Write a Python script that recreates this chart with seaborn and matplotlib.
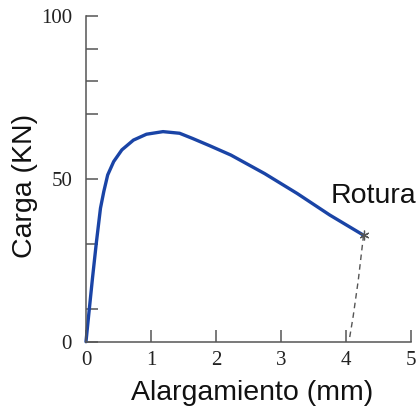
import matplotlib
matplotlib.use("Agg")
import matplotlib.pyplot as plt
import seaborn as sns
import pandas as pd

# Data
elong_mm = [0, 0.05, 0.10, 0.16, 0.19, 0.223, 0.274, 0.334, 0.426, 0.552,
            0.73, 0.93, 1.185, 1.44, 1.64, 1.9, 2.23, 2.75, 3.25, 3.75, 4.27]
load_kn = [0, 9.8, 19.5, 30.5, 35.5, 41.0, 46.1, 51.2, 55.3, 58.9,
           61.9, 63.7, 64.5, 64.0, 62.4, 60.2, 57.3, 51.6, 45.5, 38.9, 32.7]
break_x = [4.27, 4.19, 4.11, 4.05]
break_y = [32.7, 19.0, 7.7, 0.5]
rupture_label = "Rotura"
x_ticks = [0, 1, 2, 3, 4, 5]
y_ticks = [0, 10, 30, 50, 70, 80, 90, 100]
y_tick_labels = ["0", "", "", "50", "", "", "", "100"]

sns.set_theme(style="white")
plt.rcParams['font.family'] = ['Liberation Sans', 'DejaVu Sans']

fig = plt.figure(figsize=(4.18, 4.07), dpi=100)
ax = fig.add_axes([0.2057, 0.1604, 0.7775, 0.8003])

curve = pd.DataFrame({"x": elong_mm, "y": load_kn})
sns.lineplot(data=curve, x="x", y="y", sort=False, color="#1a44a6",
             linewidth=2.4, ax=ax, clip_on=False,
             solid_joinstyle="round", solid_capstyle="round")
brk = pd.DataFrame({"x": break_x, "y": break_y})
sns.lineplot(data=brk, x="x", y="y", sort=False, color="#555555",
             linewidth=1.0, linestyle=(0, (4, 3)), ax=ax, clip_on=False)
ax.plot([break_x[0]], [break_y[0]], linestyle="none", marker=(6, 2, 0),
        markersize=7, color="#555555", markeredgewidth=0.9, clip_on=False)

ax.text(4.42, 44.7, rupture_label, ha="center", va="center", fontsize=20.5,
        color="#111111", family=['Liberation Sans', 'DejaVu Sans'])

ax.set_xlim(0, 5)
ax.set_ylim(0, 100)
ax.set_xticks(x_ticks)
ax.set_xticklabels([str(t) for t in x_ticks])
ax.set_yticks(y_ticks)
ax.set_yticklabels(y_tick_labels)

for lab in ax.get_xticklabels() + ax.get_yticklabels():
    lab.set_family(['Liberation Serif', 'DejaVu Serif'])
    lab.set_fontsize(15)
    lab.set_color("#222222")

ax.tick_params(axis="x", direction="in", length=8.5, width=1.1,
               color="#555555", pad=7, bottom=True)
ax.tick_params(axis="y", direction="in", length=8.5, width=1.1,
               color="#555555", pad=10, left=True)

sns.despine(ax=ax, top=True, right=True)
for s in ["left", "bottom"]:
    ax.spines[s].set_color("#555555")
    ax.spines[s].set_linewidth(1.1)

ax.set_xlabel("Alargamiento (mm)", fontsize=20.5, color="#111111")
ax.set_ylabel("Carga (KN)", fontsize=20.5, color="#111111")
ax.xaxis.set_label_coords(0.51, -0.157)
ax.xaxis.label.set_va("center")
ax.yaxis.set_label_coords(-0.187, 0.478)
ax.yaxis.label.set_va("center")

fig.savefig("out.png", dpi=100)
